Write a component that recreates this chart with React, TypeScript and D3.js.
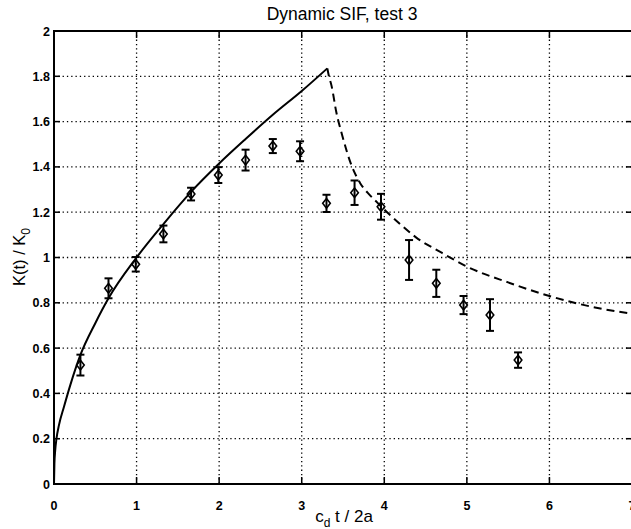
import React from "react";
import * as d3 from "d3";

const xTicks = [0, 1, 2, 3, 4, 5, 6, 7];
const yTicks = [0, 0.2, 0.4, 0.6, 0.8, 1, 1.2, 1.4, 1.6, 1.8, 2];

// Experimental points (c_d t / 2a, K/K0, error half-width)
const expT = [0.32, 0.66, 0.99, 1.325, 1.66, 1.99, 2.32, 2.65, 2.98, 3.3, 3.64, 3.96, 4.3, 4.63, 4.96, 5.28, 5.62];
const expK = [0.525, 0.864, 0.97, 1.104, 1.28, 1.364, 1.43, 1.492, 1.469, 1.239, 1.286, 1.224, 0.989, 0.886, 0.79, 0.746, 0.547];
const expErr = [0.046, 0.044, 0.032, 0.037, 0.028, 0.035, 0.046, 0.031, 0.044, 0.038, 0.054, 0.057, 0.088, 0.06, 0.04, 0.07, 0.034];

// Theory before wave arrival (solid)
const solidT = [0, 0.005, 0.015, 0.03, 0.06, 0.12, 0.2, 0.32, 0.5, 0.66, 1.0, 1.33, 1.66, 2.0, 2.32, 2.65, 3.0, 3.31];
const solidK = [0, 0.09, 0.15, 0.2, 0.26, 0.34, 0.44, 0.57, 0.71, 0.82, 1.0, 1.15, 1.29, 1.415, 1.523, 1.63, 1.735, 1.835];

// Theory after wave arrival (dashed)
const dashT = [3.31, 3.33, 3.36, 3.42, 3.49, 3.61, 3.66, 3.71, 3.8, 3.9, 3.99, 4.2, 4.38, 4.7, 5.0, 5.5, 6.0, 6.6, 7.0];
const dashK = [1.835, 1.8, 1.76, 1.64, 1.54, 1.4, 1.36, 1.327, 1.285, 1.248, 1.215, 1.145, 1.09, 1.02, 0.96, 0.89, 0.83, 0.776, 0.752];

const W = 631;
const H = 529;

export default function App() {
  const x = d3.scaleLinear().domain([0, 7]).range([54, 632]);
  const y = d3.scaleLinear().domain([0, 2]).range([484, 31]);
  const font = "'Liberation Sans', Arial, Helvetica, sans-serif";

  const solidLine = d3
    .line<number>()
    .x((_, i) => x(solidT[i]))
    .y((d) => y(d))
    .curve(d3.curveMonotoneX)(solidK) as string;
  const dashLine = d3
    .line<number>()
    .x((_, i) => x(dashT[i]))
    .y((d) => y(d))
    .curve(d3.curveMonotoneX)(dashK) as string;

  const [x0, x1] = x.range();
  const [yb, yt] = y.range();

  return (
    <svg
      width={W}
      height={H}
      style={{ position: "absolute", left: 0, top: 0, background: "#fff" }}
      fontFamily={font}
    >
      <rect x={0} y={0} width={W} height={H} fill="#fff" />
      {/* grid */}
      {xTicks.slice(1, -1).map((t) => (
        <line key={"gx" + t} x1={x(t)} x2={x(t)} y1={yt} y2={yb} stroke="#000" strokeWidth={1.3} strokeDasharray="1.3,3" />
      ))}
      {yTicks.slice(1, -1).map((t) => (
        <line key={"gy" + t} x1={x0} x2={x1} y1={y(t)} y2={y(t)} stroke="#000" strokeWidth={1.3} strokeDasharray="1.3,3" />
      ))}
      {/* ticks */}
      {xTicks.map((t) => (
        <g key={"tx" + t}>
          <line x1={x(t)} x2={x(t)} y1={yb} y2={yb - 7} stroke="#000" strokeWidth={1.5} />
          <line x1={x(t)} x2={x(t)} y1={yt} y2={yt + 7} stroke="#000" strokeWidth={1.5} />
          <text x={x(t)} y={510} textAnchor="middle" fontSize={12.5} fontWeight="bold">
            {t}
          </text>
        </g>
      ))}
      {yTicks.map((t) => (
        <g key={"ty" + t}>
          <line x1={x0} x2={x0 + 6} y1={y(t)} y2={y(t)} stroke="#000" strokeWidth={1.5} />
          <line x1={x1} x2={x1 - 6} y1={y(t)} y2={y(t)} stroke="#000" strokeWidth={1.5} />
          <text x={50} y={y(t) + 4.5} textAnchor="end" fontSize={12.5} fontWeight="bold">
            {String(t)}
          </text>
        </g>
      ))}
      {/* frame */}
      <rect x={x0} y={yt} width={x1 - x0} height={yb - yt} fill="none" stroke="#000" strokeWidth={2} />

      {/* theory */}
      <path d={solidLine} fill="none" stroke="#000" strokeWidth={2} />
      <path d={dashLine} fill="none" stroke="#000" strokeWidth={2} strokeDasharray="8,5" />

      {/* experimental points */}
      {expT.map((t, i) => {
        const cx = x(t);
        const cy = y(expK[i]);
        const top = y(expK[i] + expErr[i]);
        const bot = y(expK[i] - expErr[i]);
        return (
          <g key={"p" + i}>
            <line x1={cx} x2={cx} y1={top} y2={bot} stroke="#000" strokeWidth={2} />
            <line x1={cx - 4} x2={cx + 4} y1={top} y2={top} stroke="#000" strokeWidth={2} />
            <line x1={cx - 4} x2={cx + 4} y1={bot} y2={bot} stroke="#000" strokeWidth={2} />
            <path
              d={`M${cx},${cy - 4.8}L${cx + 3.8},${cy}L${cx},${cy + 4.8}L${cx - 3.8},${cy}Z`}
              fill="none"
              stroke="#000"
              strokeWidth={1.6}
            />
          </g>
        );
      })}

      {/* title and labels */}
      <text x={342} y={20} textAnchor="middle" fontSize={17.5}>
        Dynamic SIF, test 3
      </text>
      <text x={344} y={522} textAnchor="middle" fontSize={17}>
        c<tspan fontSize={12} dy={5}>d</tspan>
        <tspan dy={-5}> t / 2a</tspan>
      </text>
      <text transform={`translate(25,257) rotate(-90)`} textAnchor="middle" fontSize={16.5}>
        K(t) / K<tspan fontSize={12} dy={5}>0</tspan>
      </text>
    </svg>
  );
}
